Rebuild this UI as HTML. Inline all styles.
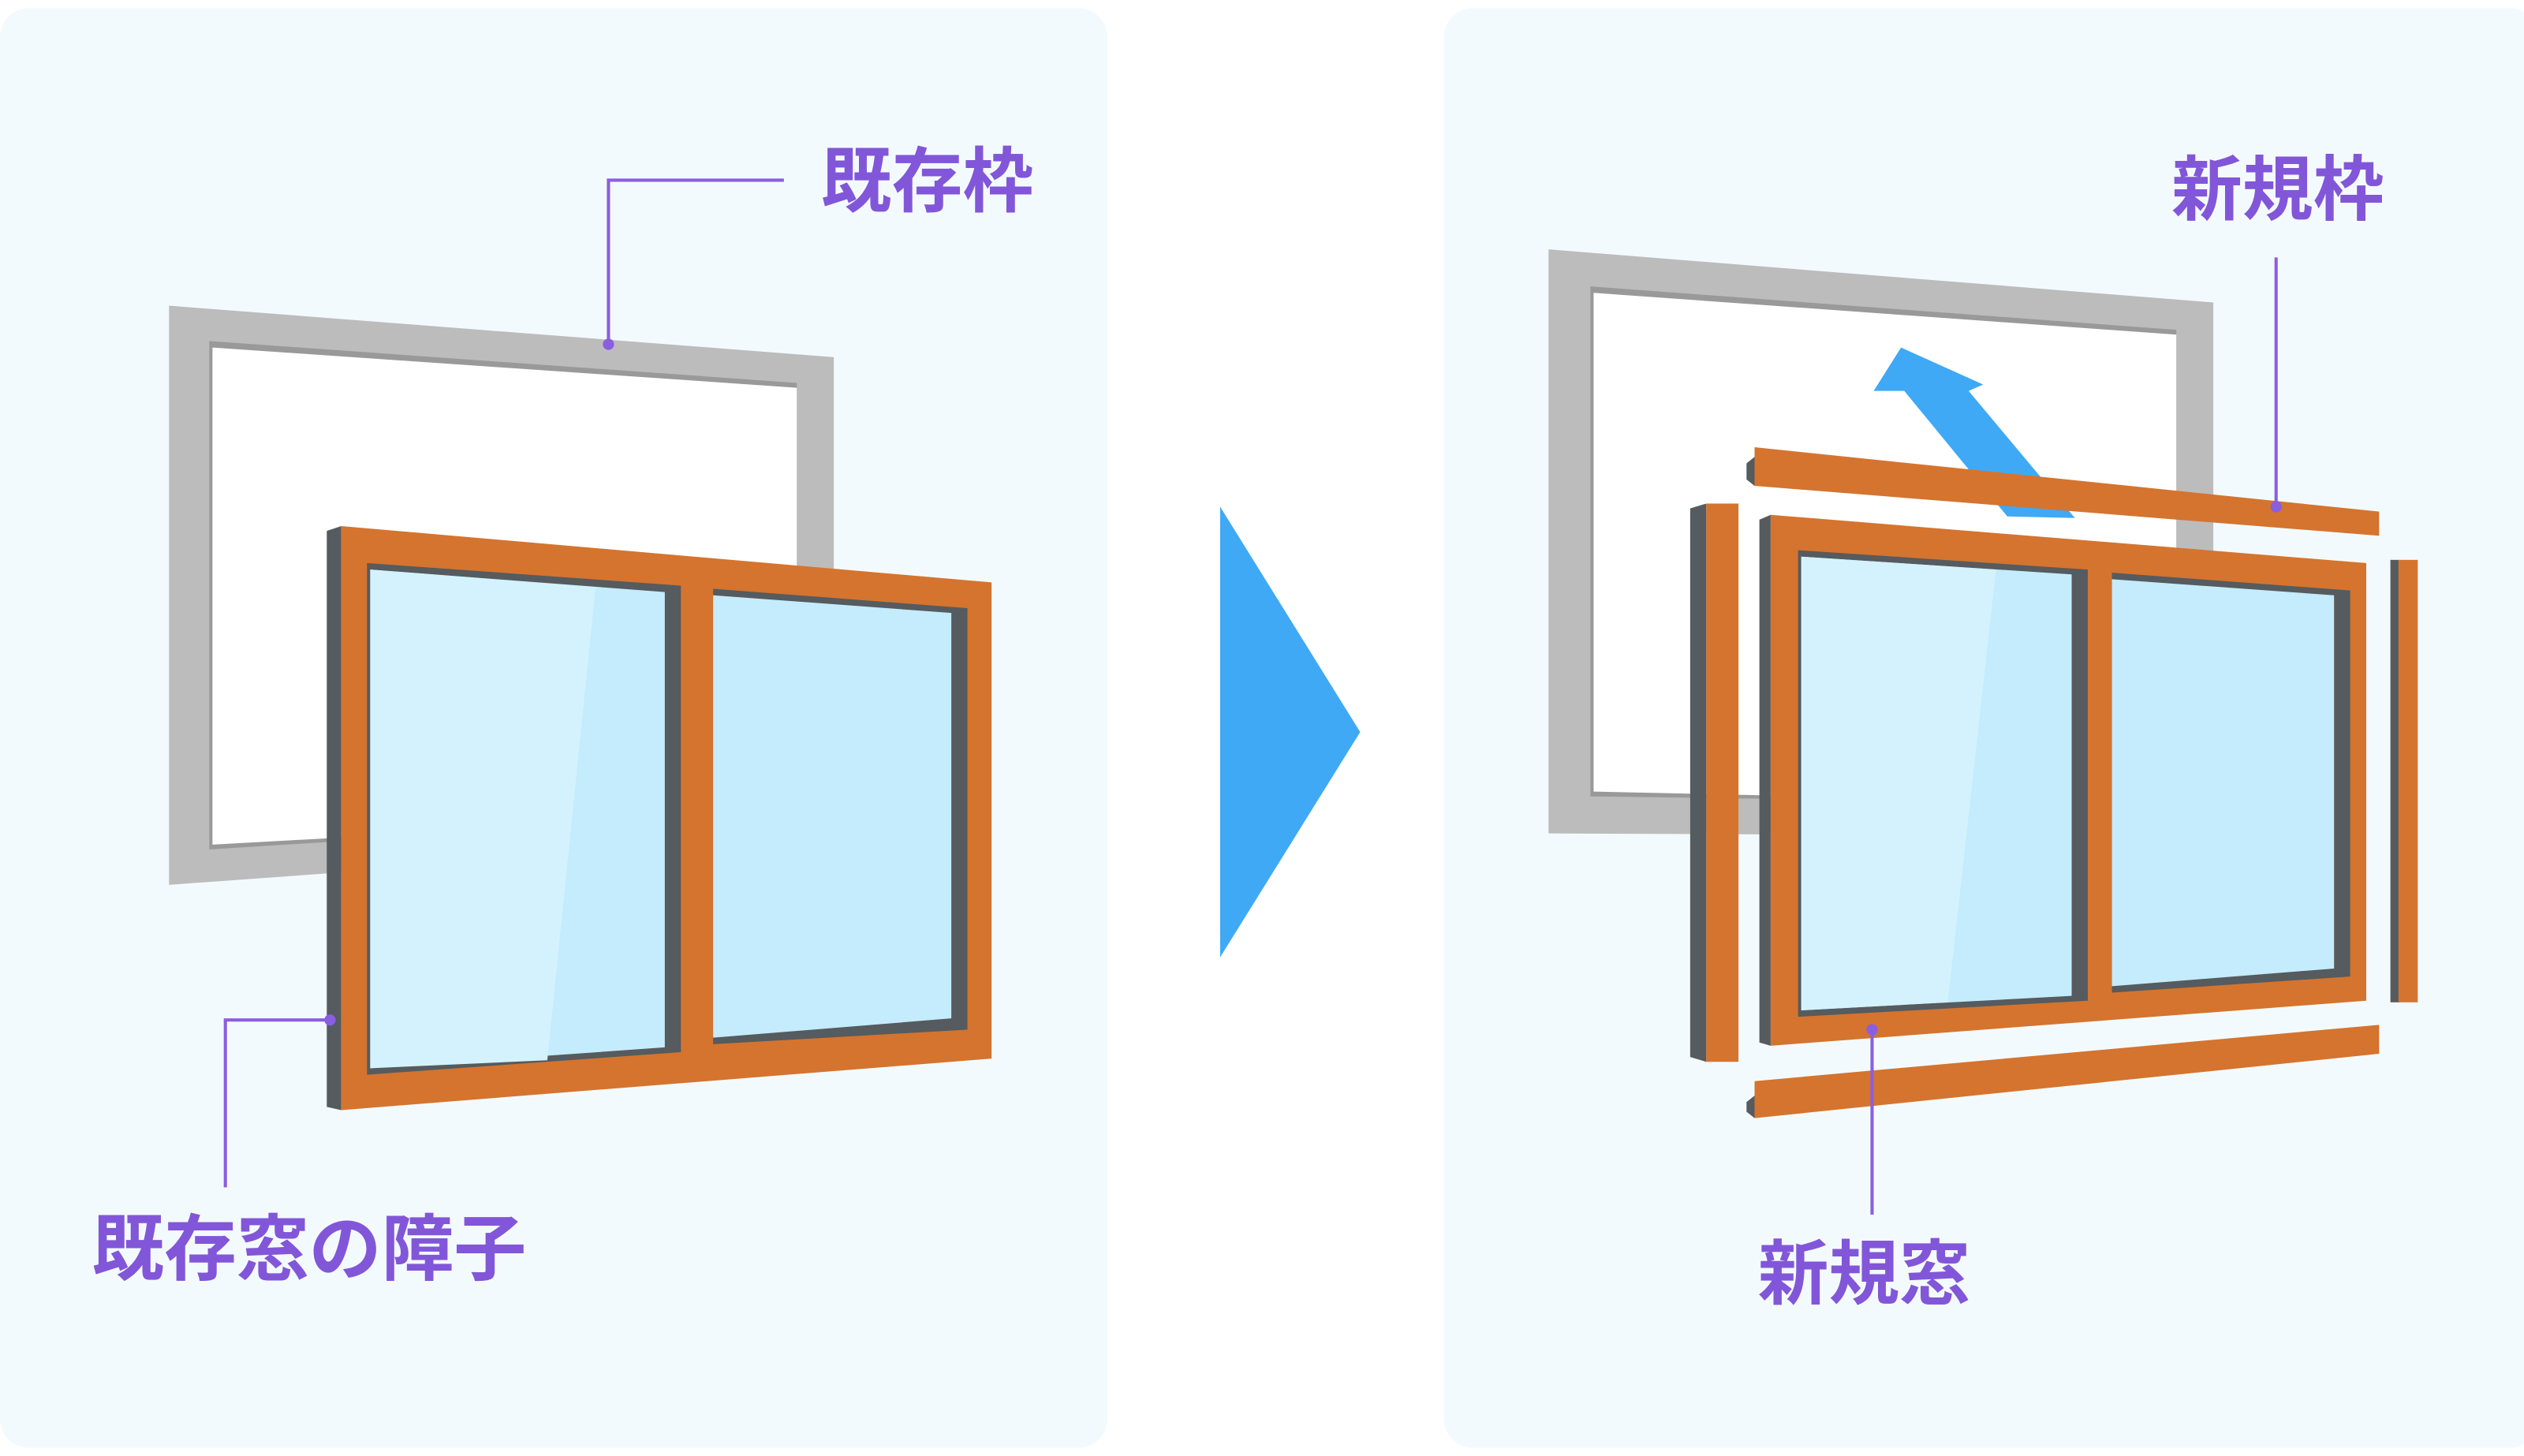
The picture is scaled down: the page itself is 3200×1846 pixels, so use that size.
<!DOCTYPE html>
<html><head><meta charset="utf-8"><style>
html,body{margin:0;padding:0;background:#fff;}
svg{display:block}
text{font-family:"Liberation Sans","Noto Sans CJK JP",sans-serif;font-weight:bold;fill:#8256d8}
</style></head><body>
<svg width="3200" height="1846" viewBox="0 0 1568 905" preserveAspectRatio="none" xmlns="http://www.w3.org/2000/svg">
<rect x="0" y="0" width="1568" height="905" fill="#fff"/>
<rect x="0" y="5" width="688" height="895" rx="18" fill="#f3fafe"/>
<rect x="897" y="5" width="680" height="895" rx="18" fill="#f3fafe"/>
<polygon points="758,315 845,455 758,595" fill="#3fa9f5"/>

<!-- LEFT existing frame -->
<polygon points="105,190 518,222 518,520 105,550" fill="#bcbcbc"/>
<polygon points="130,212 495,238 495,505 130,528" fill="#999"/>
<polygon points="132,216 495,241 495,505 132,525" fill="#fff"/>
<!-- left window -->
<polygon points="203,330 212,327 212,690 203,688" fill="#555b5e"/>
<polygon points="212,327 616,362 616,658 212,690" fill="#d4742f"/>
<polygon points="228,350 423,364 423,654 228,668" fill="#555b5e"/>
<polygon points="230,354 413,368 413,651 230,664" fill="#c4ecfc"/>
<polygon points="230,354 370,365 340,659 230,664" fill="#d4f2fd"/>
<polygon points="443,366 601,378 601,640 443,649" fill="#555b5e"/>
<polygon points="443,370 591,381 591,633 443,645" fill="#c4ecfc"/>
<!-- left leaders -->
<polyline points="487,112 378,112 378,214" fill="none" stroke="#8a5ee0" stroke-width="2"/>
<circle cx="378" cy="214" r="3.5" fill="#8a5ee0"/>
<polyline points="140,738 140,634 205,634" fill="none" stroke="#8a5ee0" stroke-width="2"/>
<circle cx="205" cy="634" r="3.5" fill="#8a5ee0"/>
<text x="510" y="128" font-size="44">既存枠</text>
<text x="57" y="792" font-size="45">既存窓の障子</text>

<!-- RIGHT existing frame -->
<polygon points="962,155 1375,188 1375,520 962,518" fill="#bcbcbc"/>
<polygon points="988,178 1352,205 1352,500 988,495" fill="#999"/>
<polygon points="990,182 1352,208 1352,500 990,492" fill="#fff"/>
<!-- blue arrow -->
<polygon points="1181,216 1232,239 1223,243 1289,322 1247,321 1183,243 1164,243" fill="#3fa9f5"/>
<!-- top bar -->
<polygon points="1085,288 1090,284 1090,302 1085,298" fill="#555b5e"/>
<polygon points="1090,278 1478,318 1478,333 1090,302" fill="#d4742f"/>
<!-- left bar -->
<polygon points="1050,316 1060,313 1060,660 1050,657" fill="#555b5e"/>
<rect x="1060" y="313" width="20" height="347" fill="#d4742f"/>
<!-- right bar -->
<rect x="1485" y="348" width="6" height="275" fill="#555b5e"/>
<rect x="1490" y="348" width="12" height="275" fill="#d4742f"/>
<!-- bottom bar -->
<polygon points="1085,685 1090,681 1090,695 1085,691" fill="#555b5e"/>
<polygon points="1090,672 1478,637 1478,655 1090,695" fill="#d4742f"/>
<!-- new window -->
<polygon points="1093,323 1100,320 1100,650 1093,648" fill="#555b5e"/>
<polygon points="1100,320 1470,350 1470,622 1100,650" fill="#d4742f"/>
<polygon points="1117,342 1297,354 1297,622 1117,632" fill="#555b5e"/>
<polygon points="1119,346 1287,357 1287,619 1119,628" fill="#c4ecfc"/>
<polygon points="1119,346 1240,354 1210,623 1119,628" fill="#d4f2fd"/>
<polygon points="1312,356 1460,367 1460,607 1312,617" fill="#555b5e"/>
<polygon points="1312,360 1450,370 1450,602 1312,613" fill="#c4ecfc"/>
<!-- right leaders -->
<line x1="1414" y1="160" x2="1414" y2="315" stroke="#8a5ee0" stroke-width="2"/>
<circle cx="1414" cy="315" r="3.5" fill="#8a5ee0"/>
<line x1="1163" y1="755" x2="1163" y2="640" stroke="#8a5ee0" stroke-width="2"/>
<circle cx="1163" cy="640" r="3.5" fill="#8a5ee0"/>
<text x="1349" y="133" font-size="44">新規枠</text>
<text x="1092" y="807" font-size="44">新規窓</text>
</svg>
</body></html>
